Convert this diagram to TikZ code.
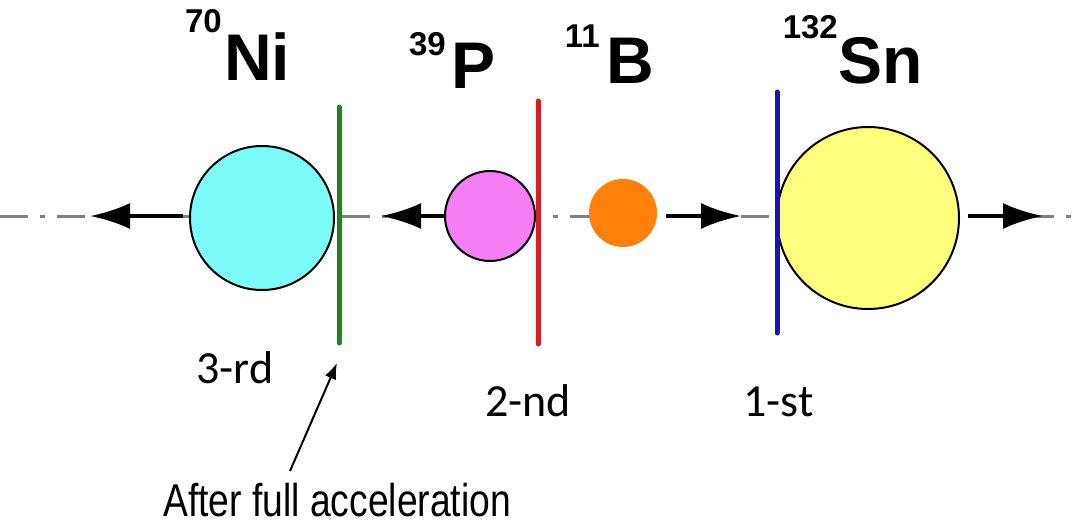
\documentclass[tikz,border=0pt]{standalone}
\usepackage{fontspec}
\usetikzlibrary{arrows.meta,calc}
\newfontfamily\nucfont{Liberation Sans}
\newfontfamily\ordfont{Carlito}
\newfontfamily\notefont[FakeStretch=0.81]{Liberation Sans}
\definecolor{nicyan}{RGB}{125,250,250}
\definecolor{ppink}{RGB}{245,125,245}
\definecolor{borange}{RGB}{255,128,10}
\definecolor{snyellow}{RGB}{255,255,125}
\definecolor{stgreen}{RGB}{25,135,30}
\definecolor{stred}{RGB}{215,30,35}
\definecolor{stblue}{RGB}{25,20,185}
\begin{document}
\begin{tikzpicture}[x=1pt,y=-1pt,
 ion/.style={circle,draw=black,line width=2pt,inner sep=0},
 fly/.style={line width=4pt,-{Latex[length=40pt,width=26pt]}},
 stage/.style={line width=5pt,line cap=round},
 sym/.style={font=\nucfont\bfseries\fontsize{66}{66}\selectfont,inner sep=0,anchor=base west},
 massno/.style={font=\nucfont\bfseries\fontsize{33}{33}\selectfont,inner sep=0,anchor=base east},
 ordlab/.style={font=\ordfont\fontsize{46}{46}\selectfont,inner sep=0,anchor=base west}]
 \useasboundingbox (0,0) rectangle (1079,525);
 % beam axis
 \draw[gray,line width=3pt,dash pattern=on 28pt off 12pt on 5pt off 12pt] (0,216)--(1079,216);
 % fragments
 \node[ion,fill=nicyan,minimum size=144pt] (ni) at (262,218) {};
 \node[ion,fill=ppink,minimum size=90pt] (p) at (490,216) {};
 \node[ion,draw=borange,fill=borange,minimum size=66pt] (b) at (623,213) {};
 \node[ion,fill=snyellow,minimum size=182pt] (sn) at (868,218) {};
 \coordinate (niend) at (90,216); \coordinate (pend) at (381,216);
 \coordinate (bend) at (741,216); \coordinate (snend) at (1043,216);
 \draw[fly,shorten <=6pt] (ni.west|-0,216)--(niend);
 \draw[fly] (p.west|-0,216)--(pend);
 \draw[fly,shorten <=9pt] (b.east|-0,216)--(bend);
 \draw[fly,shorten <=8pt] (sn.east|-0,216)--(snend);
 % stage foils
 \coordinate (g1) at (339,107); \coordinate (g2) at (339,343);
 \draw[stage,stgreen] (g1)--(g2);
 \draw[stage,stred] (538,101)--(538,344);
 \draw[stage,stblue] (777,92)--(777,333);
 % labels
 \node[sym] (nisym) at (224,80) {Ni}; \node[massno] (nimass) at (222,32) {70};
 \node[sym] (psym) at (451,88) {P}; \node[massno] (pmass) at (446,55) {39};
 \node[sym] (bsym) at (606,83) {B}; \node[massno] (bmass) at (600,47) {11};
 \node[sym] (snsym) at (838,83) {Sn}; \node[massno] (snmass) at (838,38) {132};
 \node[ordlab] (third) at (196,383) {3-rd};
 \node[ordlab] (second) at (485,416) {2-nd};
 \node[ordlab] (first) at (743,416) {1-st};
 \node[font=\notefont\fontsize{46}{46}\selectfont,inner sep=0,anchor=base west] (note) at (163,516) {After full acceleration};
 \coordinate (ptail) at (290,471);
 \draw[line width=2pt,-{Latex[length=16pt,width=12pt]}] (ptail)--($(g2)+(-2,20)$);
\end{tikzpicture}
\end{document}
